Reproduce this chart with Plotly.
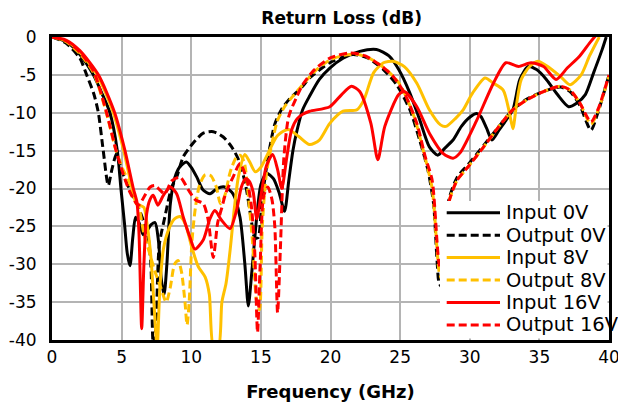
import plotly.graph_objects as go

# ---- data ----
in0_f = [0, 1, 2, 2.97, 3.6, 4.16, 4.69, 4.95, 5.2, 5.4, 5.6, 5.8, 6.0, 6.25, 6.55, 6.85, 7.1, 7.4, 7.65, 7.85, 8.05, 8.25, 8.5, 8.83, 9.2, 9.65, 10.0, 10.4, 10.85, 11.35, 11.85, 12.4, 13.0, 13.5, 13.85, 14.1, 14.35, 14.7, 15.0, 15.4, 15.9, 16.3, 16.7, 17.0, 17.3, 17.6, 18.0, 18.5, 19.2, 19.95, 20.9, 22.1, 23.3, 24.2, 24.9, 25.7, 26.4, 27.1, 27.7, 28.2, 28.8, 29.4, 30.0, 30.5, 30.8, 31.2, 31.6, 32.1, 32.6, 33.1, 33.6, 34.2, 34.8, 35.5, 36.3, 37.1, 37.7, 38.3, 38.9, 39.5, 39.8]
in0_db = [0, -0.6, -2.3, -5, -7.5, -10, -15, -20, -24.5, -28.5, -30.2, -26.5, -23.8, -24.5, -26.1, -25.5, -24.8, -24.5, -27, -32, -34, -30, -22, -18.5, -17.1, -16.5, -17.2, -18.5, -20.2, -20.7, -20, -19.8, -20.7, -23.8, -30, -35.5, -31, -23.8, -19.5, -18, -18.7, -20.5, -23, -19, -15, -12.3, -9.6, -7.8, -5.6, -4.1, -2.8, -1.9, -1.65, -2.5, -4.3, -7.4, -10.9, -14.5, -15.6, -14.7, -13.6, -11.8, -10.6, -10.1, -10.5, -12, -13.6, -12.3, -11, -9.6, -5.6, -3.9, -4.3, -5.6, -7.6, -9.2, -8.7, -7.6, -4.7, -1.7, 0]

out0_f = [0, 1, 2, 2.49, 3.0, 3.33, 3.68, 4.04, 4.3, 4.64, 5.0, 5.6, 6.1, 6.55, 6.9, 7.1, 7.27, 7.45, 7.7, 8.1, 8.6, 8.95, 9.43, 10.14, 10.86, 11.58, 12.3, 12.9, 13.4, 13.9, 14.3, 14.55, 14.8, 15.05, 15.3, 15.6, 16.0, 16.5, 17.0, 18.0, 18.5, 19.95, 21.6, 22.7, 23.8, 24.75, 25.7, 26.4, 27.0, 27.4, 27.65, 27.8, 28.0, 28.25, 28.5, 29.1, 29.9, 31.0, 32.1, 33.1, 34.1, 35.3, 36.5, 37.2, 37.9, 38.7, 39.2, 40]
out0_db = [0, -0.8, -2.8, -5, -7.5, -10, -15, -19.6, -17.5, -15.4, -17.6, -20.2, -22, -24.2, -26.4, -30, -40.5, -38.5, -27.5, -23.8, -19.8, -18.5, -15.8, -14, -12.7, -12.5, -13.2, -14.5, -16.2, -19.5, -24, -26.5, -26.5, -22, -18.5, -15, -11.5, -9.5, -8.3, -6.5, -5.4, -3.4, -2.3, -2.8, -4.3, -6.3, -9.6, -13.6, -17.6, -22, -29.5, -32.5, -33, -27, -21.5, -18.5, -16.8, -14.3, -11.8, -9.6, -8.2, -7.2, -6.6, -7.2, -9.0, -12.3, -10, -5]

in8_f = [0, 1, 2, 3.25, 4.4, 5.15, 5.75, 6.05, 6.3, 6.6, 6.85, 7.1, 7.35, 7.55, 7.75, 8.0, 8.4, 8.8, 9.2, 9.6, 10.0, 10.5, 11.0, 11.3, 11.6, 11.95, 12.2, 12.5, 12.8, 13.1, 13.4, 13.85, 14.2, 14.6, 15.0, 15.5, 16.2, 16.96, 17.7, 18.5, 19.2, 19.95, 20.9, 21.9, 22.4, 23.1, 23.8, 24.5, 25.3, 26.2, 27.1, 27.9, 28.3, 29.0, 29.5, 30.2, 31.1, 31.7, 32.4, 32.85, 33.1, 33.35, 33.7, 34.3, 34.9, 35.6, 36.5, 37.2, 38.0, 38.6, 39.3]
in8_db = [0, -0.5, -2.0, -5, -10, -15, -20, -22, -22.2, -22.5, -25, -29, -36, -41, -33, -28, -25.3, -24, -23.7, -24.8, -27.5, -30.3, -31.7, -34, -41, -41, -35, -32.5, -28, -22.5, -18.3, -15.5, -16.5, -17.8, -17.2, -15.4, -13, -12.2, -13.1, -14.2, -13.6, -11.4, -9.8, -9.6, -8.3, -4.7, -3.4, -3.2, -3.9, -6.1, -9.6, -11.6, -11.8, -10.7, -9.7, -7.4, -5.4, -6.1, -7, -10, -12.1, -9, -5.6, -3.9, -3.2, -3.9, -5.2, -6.3, -5, -2.5, 0]

out8_f = [0, 1, 2, 3.0, 3.9, 4.6, 5.1, 5.5, 6.0, 6.3, 6.6, 7.0, 7.4, 7.8, 8.2, 8.5, 8.8, 9.05, 9.3, 9.55, 9.7, 9.85, 10.05, 10.3, 10.6, 11.0, 11.4, 11.8, 12.1, 12.4, 12.8, 13.2, 13.5, 13.8, 14.1, 14.4, 14.7, 14.9, 15.1, 15.4, 15.8, 16.2, 16.7, 17.3, 18.0, 19.0, 20.0, 21.0, 22.0, 23.0, 24.0, 25.0, 26.0, 26.8, 27.3, 27.65, 27.8, 28.0, 28.25, 28.5, 29.1, 29.9, 31.0, 32.1, 33.1, 34.1, 35.3, 36.5, 37.2, 37.9, 38.7, 39.2, 40]
out8_db = [0, -0.6, -2.2, -4.8, -10, -15, -17.5, -19, -21.5, -23, -26, -28.5, -31, -33, -35, -33, -30, -29.5, -31, -35, -38, -35, -27, -22.5, -19.5, -18.2, -18.3, -19.8, -22, -21, -17.8, -16, -15.6, -16.5, -21, -27, -35, -36, -25, -18, -14, -11, -9.2, -7.8, -6.3, -4.3, -3.0, -2.4, -2.3, -3.0, -4.3, -6.3, -10.5, -16, -20, -28, -31, -32, -26.5, -21.8, -18.9, -17.1, -14.5, -11.8, -9.6, -8.3, -7.2, -6.5, -7.0, -8.7, -11.5, -9.8, -5.2]

in16_f = [0, 1, 2, 3.33, 4.5, 5.24, 5.84, 6.1, 6.25, 6.44, 6.6, 6.8, 7.03, 7.27, 7.6, 8.0, 8.5, 8.95, 9.43, 9.9, 10.26, 10.86, 11.34, 11.7, 12.18, 12.78, 13.25, 13.6, 13.9, 14.15, 14.45, 14.7, 15.0, 15.4, 15.85, 16.2, 16.5, 16.85, 17.2, 17.6, 18.0, 18.5, 19.95, 20.8, 21.5, 22.1, 22.9, 23.4, 23.9, 24.9, 25.3, 26.2, 27.1, 28.1, 28.8, 29.3, 30.5, 31.7, 32.6, 33.5, 34.4, 35.3, 36.2, 37.0, 37.9, 38.6, 39.1]
in16_db = [0, -0.4, -1.8, -5, -10, -15, -20, -21.8, -26, -38.5, -30, -23.3, -21.5, -20.9, -22.2, -20.9, -19.8, -20.7, -23.8, -26.4, -28, -26.8, -24, -22.9, -24.2, -25.3, -22.9, -19.8, -18.7, -19, -20.5, -24, -21, -17, -15.5, -17.5, -20, -16, -12.3, -10.8, -10.2, -9.8, -9.2, -7.6, -6.5, -7.2, -11.4, -16.2, -11.8, -7.6, -7.2, -9.2, -12.7, -15.4, -16, -15.3, -11, -6.1, -3.4, -3.9, -3.4, -3.9, -5.6, -4.1, -2.5, -0.8, 0.3]

out16_f = [0, 1, 2, 3.0, 3.92, 4.6, 5.1, 5.6, 6.2, 6.7, 7.05, 7.39, 7.75, 8.1, 8.6, 9.2, 9.8, 10.3, 10.86, 11.2, 11.58, 11.9, 12.2, 12.5, 13.0, 13.5, 14.0, 14.3, 14.55, 14.76, 14.95, 15.2, 15.5, 15.8, 16.0, 16.2, 16.4, 16.65, 17.0, 17.6, 18.0, 18.75, 19.95, 21.4, 22.5, 23.7, 24.5, 25.3, 26.2, 26.8, 27.3, 27.65, 27.8, 28.0, 28.25, 28.5, 29.1, 29.9, 31.0, 32.1, 33.1, 34.1, 35.3, 36.5, 37.2, 37.9, 38.7, 39.2, 40]
out16_db = [0, -0.5, -2.0, -4.6, -10, -15, -18, -20.5, -22.2, -20.8, -19.8, -19.6, -20.2, -20.7, -19, -18.5, -20.2, -21.5, -22, -24, -29.1, -24.5, -22.5, -20.5, -18.5, -16.7, -18.9, -22, -28, -39, -30, -21, -19.8, -21.5, -25, -36.4, -28, -16, -10.5, -7.8, -6.3, -4.5, -2.8, -2.1, -2.5, -3.9, -5.2, -7.4, -11.4, -15.8, -18.9, -27, -30, -31, -26, -21.8, -18.9, -17.1, -14.5, -11.8, -9.6, -8.3, -7.2, -6.5, -7.0, -8.7, -11.2, -9.6, -5.0]

series_names = ["Input 0V", "Output 0V", "Input 8V", "Output 8V", "Input 16V", "Output 16V"]
x_ticks = [0, 5, 10, 15, 20, 25, 30, 35, 40]
y_ticks = [0, -5, -10, -15, -20, -25, -30, -35, -40]

# ---- styles ----
BLACK, GOLD, RED = "#000000", "#FFC000", "#FF0000"
DASH = "8px,4px"
series = [
    (in0_f, in0_db, BLACK, "solid"),
    (out0_f, out0_db, BLACK, DASH),
    (in8_f, in8_db, GOLD, "solid"),
    (out8_f, out8_db, GOLD, DASH),
    (in16_f, in16_db, RED, "solid"),
    (out16_f, out16_db, RED, DASH),
]

fig = go.Figure()
for name, (f, db, col, dash) in zip(series_names, series):
    fig.add_trace(go.Scatter(
        x=f, y=db, name=name, mode="lines", showlegend=False,
        line=dict(color=col, width=3, dash=dash, shape="spline", smoothing=0.7),
    ))

# ---- legend drawn inside the plot (Excel-like tight spacing) ----
PW, PH = 557.0, 303.0   # plot area size in px
shapes = [dict(type="rect", xref="paper", yref="paper", layer="above",
               x0=388 / PW, x1=555.5 / PW, y0=1.5 / PH, y1=139 / PH,
               fillcolor="white", line=dict(width=0))]
annotations = []
row0, row_gap = 127.3, 22.45
for i, (name, (_, _, col, dash)) in enumerate(zip(series_names, series)):
    yp = (row0 - i * row_gap) / PH
    shapes.append(dict(type="line", xref="paper", yref="paper", layer="above",
                       x0=394.7 / PW, x1=448 / PW, y0=yp, y1=yp,
                       line=dict(color=col, width=3, dash=dash)))
    annotations.append(dict(text=name, xref="paper", yref="paper",
                            x=452 / PW, y=yp, xanchor="left", yanchor="middle",
                            showarrow=False, font=dict(size=19.5, color="black")))

FONT = "DejaVu Sans"
fig.update_layout(
    width=618, height=407,
    margin=dict(l=44, r=17, t=29, b=75),
    paper_bgcolor="white", plot_bgcolor="white",
    font=dict(family=FONT, color="black", size=17),
    title=dict(text="<b>Return Loss (dB)</b>", font=dict(size=17, family=FONT),
               x=0.52, xref="paper", xanchor="center",
               y=1 - 10 / 407, yref="container", yanchor="middle"),
    showlegend=False,
    shapes=shapes,
    annotations=annotations,
)
fig.update_xaxes(
    range=[0, 40], tickvals=x_ticks, ticktext=[str(v) for v in x_ticks],
    showgrid=True, gridcolor="#B4B4B4", gridwidth=1.5, automargin=False,
    showline=True, linecolor="black", linewidth=3, mirror=True,
    zeroline=False, ticks="", tickfont=dict(size=17),
    title=dict(text="<b>Frequency (GHz)</b>", font=dict(size=18), standoff=19),
)
fig.update_yaxes(
    range=[-40, 0], tickvals=y_ticks, ticktext=[str(v) for v in y_ticks],
    showgrid=True, gridcolor="#B4B4B4", gridwidth=1.5, automargin=False,
    showline=True, linecolor="black", linewidth=3, mirror=True,
    zeroline=False, ticks="", tickfont=dict(size=17), ticklabelstandoff=9,
)

fig.write_html("out.html")
